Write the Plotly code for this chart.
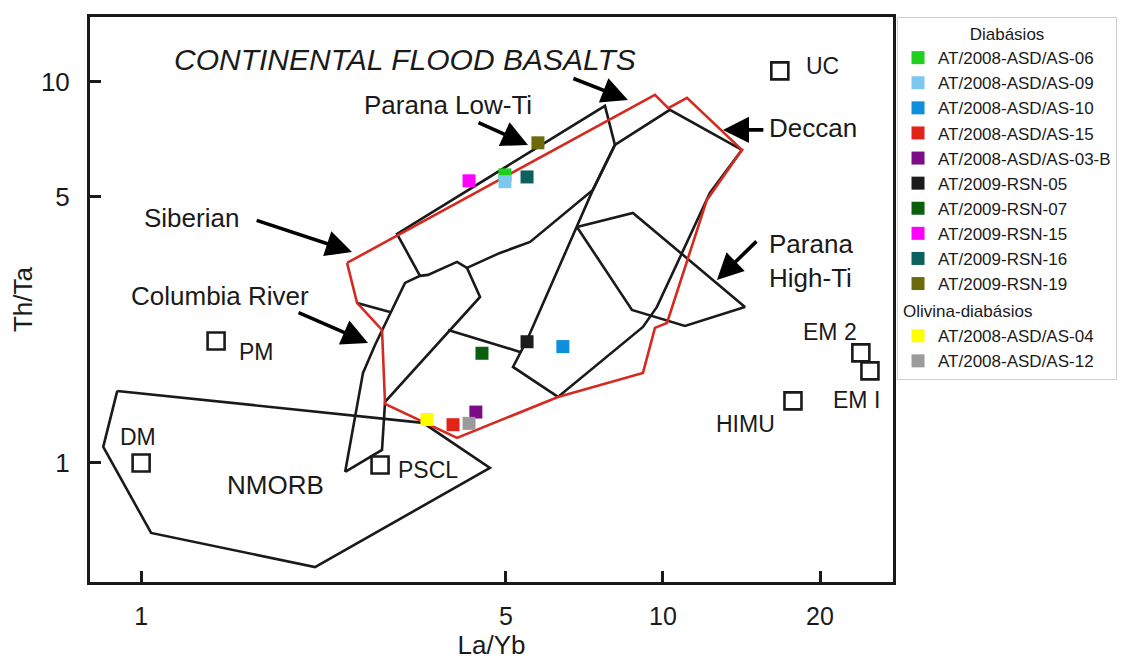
import math
import plotly.graph_objects as go

# ---------------- sample data ----------------
sample_names = [
    "AT/2008-ASD/AS-06", "AT/2008-ASD/AS-09", "AT/2008-ASD/AS-10", "AT/2008-ASD/AS-15",
    "AT/2008-ASD/AS-03-B", "AT/2009-RSN-05", "AT/2009-RSN-07", "AT/2009-RSN-15",
    "AT/2009-RSN-16", "AT/2009-RSN-19", "AT/2008-ASD/AS-04", "AT/2008-ASD/AS-12",
]
sample_groups = ["Diabásios"] * 10 + ["Olivina-diabásios"] * 2
sample_la_yb = [4.98, 4.98, 6.43, 3.96, 4.38, 5.49, 4.50, 4.25, 5.49, 5.76, 3.53, 4.25]
sample_th_ta = [5.70, 5.47, 2.02, 1.26, 1.36, 2.08, 1.94, 5.50, 5.63, 6.92, 1.30, 1.27]
sample_colors = ["#1fd01f", "#7ec8f0", "#0d8fdc", "#e2231a", "#7b0c88", "#1b1b1b",
                 "#0b5e0b", "#ff00ff", "#0c6060", "#6b6b0c", "#ffff00", "#9b9b9b"]

# ---------------- mantle / crust reservoirs ----------------
reservoir_names = ["DM", "PM", "PSCL", "UC", "HIMU", "EM 2", "EM I"]
reservoir_la_yb = [1.0, 1.392, 2.870, 16.75, 17.75, 23.95, 24.93]
reservoir_th_ta = [1.0, 2.090, 0.988, 10.69, 1.455, 1.944, 1.744]
reservoir_label_la_yb = [0.987, 1.661, 3.546, 20.25, 14.42, 20.89, 23.53]
reservoir_label_th_ta = [1.170, 1.956, 0.958, 11.01, 1.266, 2.208, 1.464]

# ---------------- field polygons ----------------
nmorb_la_yb = [0.90, 3.47, 4.66, 2.154, 1.045, 0.846, 0.90]
nmorb_th_ta = [1.545, 1.274, 0.970, 0.533, 0.655, 1.102, 1.545]

columbia_la_yb = [2.46, 2.662, 2.807, 3.204, 3.423, 3.546, 4.031, 4.212, 4.462, 2.934, 2.895, 2.46]
columbia_th_ta = [0.947, 1.723, 2.040, 2.968, 3.097, 3.115, 3.370, 3.250, 2.727, 1.446, 1.082, 0.947]

parana_low_la_yb = [3.423, 3.093, 7.743, 8.091, 7.341, 5.564, 4.872, 4.212]
parana_low_th_ta = [3.097, 3.990, 8.650, 6.833, 5.206, 3.802, 3.557, 3.250]

deccan_la_yb = [8.091, 10.31, 14.17, 12.30, 9.739, 9.156, 6.293, 5.160, 5.490, 6.842, 7.341, 8.091]
deccan_th_ta = [6.833, 8.444, 6.631, 5.113, 2.567, 2.275, 1.490, 1.786, 2.103, 4.163, 5.206, 6.833]

parana_high_la_yb = [6.842, 8.760, 14.36, 11.02, 8.722, 6.842]
parana_high_th_ta = [4.163, 4.531, 2.567, 2.288, 2.521, 4.163]

cfb_la_yb = [2.481, 9.654, 10.24, 11.12, 14.17, 12.14, 10.18, 9.654, 9.156, 6.293,
             4.031, 2.934, 2.895, 2.593, 2.481]
cfb_th_ta = [3.349, 9.245, 8.531, 9.078, 6.631, 4.900, 2.330, 2.262, 1.723, 1.490,
             1.163, 1.428, 2.234, 2.630, 3.349]

tie1_la_yb = [2.593, 2.999]
tie1_th_ta = [2.630, 2.490]
tie2_la_yb = [3.874, 5.322]
tie2_th_ta = [2.234, 1.956]

# ---------------- field labels ----------------
field_labels = ["<i>CONTINENTAL FLOOD BASALTS</i>", "Parana Low-Ti", "Siberian",
                "Columbia River", "Deccan", "Parana<br>High-Ti", "NMORB"]
field_label_la_yb = [3.204, 3.874, 1.247, 1.417, 19.39, 15.82, 1.806]
field_label_th_ta = [11.42, 8.70, 4.40, 2.744, 7.575, 3.38, 0.876]

# arrows: tail -> head
arrow_tail_la_yb = [1.654, 6.693, 4.402, 15.68, 15.21, 1.990]
arrow_tail_th_ta = [4.344, 10.24, 7.853, 7.482, 3.848, 2.490]
arrow_head_la_yb = [2.536, 8.570, 5.513, 13.03, 12.69, 2.722]
arrow_head_th_ta = [3.579, 8.968, 6.833, 7.482, 3.022, 2.065]

x_ticks = [1, 5, 10, 20]
y_ticks = [1, 5, 10]

FONT = "Liberation Sans, Arial, Helvetica, sans-serif"
BLACK = "#1a1a1a"
RED = "#d42a20"

fig = go.Figure()

polys = [
    (nmorb_la_yb, nmorb_th_ta, BLACK),
    (columbia_la_yb, columbia_th_ta, BLACK),
    (parana_low_la_yb, parana_low_th_ta, BLACK),
    (deccan_la_yb, deccan_th_ta, BLACK),
    (parana_high_la_yb, parana_high_th_ta, BLACK),
    (tie1_la_yb, tie1_th_ta, BLACK),
    (tie2_la_yb, tie2_th_ta, BLACK),
    (cfb_la_yb, cfb_th_ta, RED),
]
for xs, ys, col in polys:
    fig.add_trace(go.Scatter(x=xs, y=ys, mode="lines",
                             line=dict(color=col, width=2.6),
                             showlegend=False, hoverinfo="skip"))

fig.add_trace(go.Scatter(x=reservoir_la_yb, y=reservoir_th_ta, mode="markers",
                         marker=dict(symbol="square-open", size=17,
                                     color=BLACK, line=dict(width=2.6, color=BLACK)),
                         text=reservoir_names, showlegend=False))

for name, grp, xv, yv, col in zip(sample_names, sample_groups, sample_la_yb,
                                  sample_th_ta, sample_colors):
    kw = {}
    if grp == "Olivina-diabásios":
        kw["legendgrouptitle"] = dict(text=grp, font=dict(size=17, family=FONT, color=BLACK))
    fig.add_trace(go.Scatter(x=[xv], y=[yv], mode="markers", name=name,
                             legendgroup=grp,
                             marker=dict(symbol="square", size=13, color=col,
                                         line=dict(width=0)),
                             **kw))

annotations = []
for txt, xv, yv in zip(field_labels, field_label_la_yb, field_label_th_ta):
    size = 30 if "CONTINENTAL" in txt else 26
    xanchor = "left" if "High-Ti" in txt else "center"
    annotations.append(dict(text=txt, x=math.log10(xv), y=math.log10(yv),
                            xref="x", yref="y", showarrow=False, xanchor=xanchor,
                            align="left", font=dict(size=size, family=FONT, color=BLACK)))
for txt, xv, yv in zip(reservoir_names, reservoir_label_la_yb, reservoir_label_th_ta):
    annotations.append(dict(text=txt, x=math.log10(xv), y=math.log10(yv),
                            xref="x", yref="y", showarrow=False,
                            font=dict(size=23, family=FONT, color=BLACK)))
for tx, ty, hx, hy in zip(arrow_tail_la_yb, arrow_tail_th_ta, arrow_head_la_yb, arrow_head_th_ta):
    annotations.append(dict(text="", x=math.log10(hx), y=math.log10(hy),
                            ax=math.log10(tx), ay=math.log10(ty),
                            xref="x", yref="y", axref="x", ayref="y",
                            showarrow=True, arrowhead=2, arrowsize=1.45,
                            arrowwidth=3.6, arrowcolor="black", standoff=0))

# page body has an 8px default margin: figure is sized to fit the 1144x666 window
fig.update_layout(
    width=1136, height=658,
    margin=dict(l=82, r=251, t=9, b=84),
    paper_bgcolor="white", plot_bgcolor="white",
    font=dict(family=FONT, color=BLACK),
    annotations=annotations,
    legend=dict(x=1.005, xanchor="left", y=1.0, yanchor="top",
                bgcolor="white", bordercolor="#cfcfcf", borderwidth=1,
                font=dict(size=17, family=FONT, color=BLACK),
                title=dict(text="Diabásios", side="top center",
                           font=dict(size=17, family=FONT, color=BLACK)),
                traceorder="grouped", tracegroupgap=2, itemsizing="trace"),
)
fig.update_xaxes(type="log", range=[math.log10(0.798), math.log10(27.6)],
                 tickvals=x_ticks, ticktext=[str(v) for v in x_ticks],
                 ticks="inside", ticklen=11, tickwidth=2.5, tickcolor=BLACK,
                 showline=True, linewidth=3, linecolor=BLACK, mirror=True,
                 showgrid=False, zeroline=False, automargin=False,
                 tickfont=dict(size=25, family=FONT, color=BLACK), ticklabelstandoff=10,
                 title=dict(text="La/Yb", font=dict(size=26, family=FONT, color=BLACK), standoff=6))
fig.update_yaxes(type="log", range=[math.log10(0.487), math.log10(14.8)],
                 tickvals=y_ticks, ticktext=[str(v) for v in y_ticks],
                 ticks="inside", ticklen=11, tickwidth=2.5, tickcolor=BLACK,
                 showline=True, linewidth=3, linecolor=BLACK, mirror=True,
                 showgrid=False, zeroline=False, automargin=False,
                 tickfont=dict(size=26, family=FONT, color=BLACK), ticklabelstandoff=12,
                 title=dict(text="Th/Ta", font=dict(size=26, family=FONT, color=BLACK), standoff=4))

fig.write_html("out.html")
